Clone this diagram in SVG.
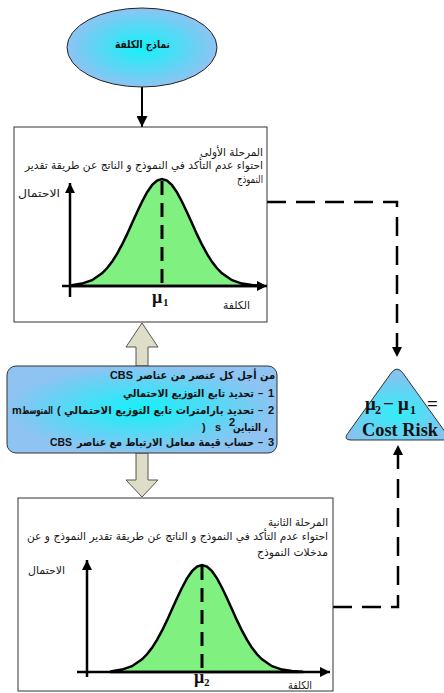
<svg xmlns="http://www.w3.org/2000/svg" xmlns:xlink="http://www.w3.org/1999/xlink" width="444" height="693" viewBox="0 0 444 693">
<style>
.box{fill:#fff;stroke:#333;stroke-width:1}
.ar{font-family:"DejaVu Sans","Liberation Sans",sans-serif;font-size:11px;fill:#1a1a1a}
.arb{font-family:"DejaVu Sans","Liberation Sans",sans-serif;font-size:11px;font-weight:bold;fill:#111}
.lat{font-family:"Liberation Sans",Arial,sans-serif;font-size:11px;font-weight:bold;fill:#111}
.mu{font-family:"Liberation Serif","Times New Roman",serif;font-weight:bold;fill:#111}
.axis{stroke:#000;stroke-width:2.5;fill:none}
.curve{fill:#80F080;stroke:#000;stroke-width:2.5}
.mean{stroke:#000;stroke-width:3;stroke-dasharray:14 8;fill:none}
.dash{stroke:#000;stroke-width:2.5;stroke-dasharray:19 10;fill:none}
.solid{stroke:#000;stroke-width:2;fill:none}
.hollow{fill:#DEDEC8;stroke:#555;stroke-width:1}
</style>
<defs>
<radialGradient id="gb" cx="50%" cy="50%" r="50%">
<stop offset="0" stop-color="#12F2F9"/>
<stop offset="1" stop-color="#8EC3F2"/>
</radialGradient>
<radialGradient id="gt" cx="50%" cy="62%" r="55%">
<stop offset="0" stop-color="#30EEF8"/>
<stop offset="1" stop-color="#86C2F0"/>
</radialGradient>
<marker id="ah" viewBox="0 0 10 10" refX="10" refY="5" markerUnits="userSpaceOnUse" markerWidth="14" markerHeight="10" orient="auto">
<path d="M0,0 L10,5 L0,10 Z" fill="#000"/>
</marker>
<marker id="ahs" viewBox="0 0 10 10" refX="10" refY="5" markerUnits="userSpaceOnUse" markerWidth="15" markerHeight="11" orient="auto">
<path d="M0,0 L10,5 L0,10 Z" fill="#000"/>
</marker>
<path id="gauss" d="M70,286 L72,285.1 82,283.6 92,280.2 102,273.4 107,268.3 112,261.8 117,253.9 122,244.7 127,234.4 132,223.3 137,212.2 142,201.7 147,192.4 152,185.2 157,180.6 162,179 167,180.6 172,185.2 177,192.4 182,201.7 187,212.2 192,223.3 197,234.4 202,244.7 207,253.9 212,261.8 217,268.3 222,273.4 232,280.2 242,283.6 252,285.1 262,285.7 L262,286 Z"/>
</defs>

<g id="connectors">
<line class="solid" x1="142" y1="87" x2="142" y2="127" marker-end="url(#ahs)"/>
<path class="dash" d="M267,202 H397 V357" marker-end="url(#ah)"/>
<path class="dash" d="M333,607 H398 V445" marker-end="url(#ah)"/>
<polygon class="hollow" points="142,323 158,347 148,347 148,366 136,366 136,347 126,347"/>
<polygon class="hollow" points="136,453 148,453 148,480 158,480 142,497 126,480 136,480"/>
</g>

<g id="node-models">
<ellipse cx="142" cy="47.5" rx="75" ry="39.5" fill="url(#gb)" stroke="#222" stroke-width="1"/>
<text class="arb" x="170" y="48" text-anchor="end" font-size="12" textLength="55" lengthAdjust="spacingAndGlyphs">نماذج الكلفة</text>
</g>

<g id="node-stage1">
<rect class="box" x="14" y="127" width="253" height="195"/>
<text class="ar" x="263" y="156" text-anchor="end" textLength="63" lengthAdjust="spacingAndGlyphs">المرحلة الأولى</text>
<text class="ar" x="263" y="169" text-anchor="end" textLength="238" lengthAdjust="spacingAndGlyphs">احتواء عدم التأكد في النموذج و الناتج عن طريقة تقدير</text>
<text class="ar" x="263" y="183" text-anchor="end" textLength="26" lengthAdjust="spacingAndGlyphs">النموذج</text>
<use xlink:href="#gauss" class="curve"/>
<line class="mean" x1="162" y1="181" x2="162" y2="286"/>
<line class="axis" x1="70" y1="297" x2="70" y2="183" marker-end="url(#ah)"/>
<line class="axis" x1="62" y1="286" x2="267" y2="286" marker-end="url(#ah)"/>
<text class="ar" x="60" y="197" text-anchor="end" font-size="12" textLength="42" lengthAdjust="spacingAndGlyphs">الاحتمال</text>
<text class="ar" x="250" y="309" text-anchor="end" textLength="27" lengthAdjust="spacingAndGlyphs">الكلفة</text>
<text class="mu" x="152" y="303" font-size="18">μ</text>
<text class="mu" x="163" y="306" font-size="11">1</text>
</g>

<g id="node-cbs">
<rect x="7" y="366" width="270" height="87" rx="9" fill="url(#gb)" stroke="#333" stroke-width="1"/>
<text class="arb" x="275" y="379" text-anchor="end" textLength="138" lengthAdjust="spacingAndGlyphs">من أجل كل عنصر من عناصر</text>
<text class="lat" x="110" y="379" textLength="23" lengthAdjust="spacingAndGlyphs">CBS</text>
<text class="lat" x="274" y="397" text-anchor="end">1</text>
<text class="lat" x="258" y="397" textLength="5" lengthAdjust="spacingAndGlyphs">–</text>
<text class="arb" x="254" y="397" text-anchor="end" textLength="131" lengthAdjust="spacingAndGlyphs">تحديد تابع التوزيع الاحتمالي</text>
<text class="lat" x="274" y="414" text-anchor="end">2</text>
<text class="lat" x="258" y="414" textLength="5" lengthAdjust="spacingAndGlyphs">–</text>
<text class="arb" x="254" y="414" text-anchor="end" textLength="190" lengthAdjust="spacingAndGlyphs">تحديد بارامترات تابع التوزيع الاحتمالي</text>
<text class="lat" x="57" y="414">(</text>
<text class="arb" x="53" y="414" text-anchor="end" textLength="31" lengthAdjust="spacingAndGlyphs">المتوسط</text>
<text class="lat" x="12" y="414">m</text>
<text class="arb" x="268" y="432" text-anchor="end">،</text>
<text class="arb" x="261" y="431" text-anchor="end" textLength="28" lengthAdjust="spacingAndGlyphs">التباين</text>
<text class="lat" x="229" y="426" font-size="8">2</text>
<text class="lat" x="215" y="431">s</text>
<text class="lat" x="202" y="431">)</text>
<text class="lat" x="274" y="446" text-anchor="end">3</text>
<text class="lat" x="258" y="446" textLength="5" lengthAdjust="spacingAndGlyphs">–</text>
<text class="arb" x="254" y="446" text-anchor="end" textLength="177" lengthAdjust="spacingAndGlyphs">حساب قيمة معامل الارتباط مع عناصر</text>
<text class="lat" x="50" y="446" textLength="22" lengthAdjust="spacingAndGlyphs">CBS</text>
</g>

<g id="node-risk">
<path d="M351,440 L443,440 Q451,440 446.3,433.5 L402.9,373.1 Q397,365 391.1,373.1 L347.7,433.5 Q343,440 351,440 Z" fill="url(#gt)" stroke="#333" stroke-width="1"/>
<text class="mu" y="410" font-size="19"><tspan x="365">μ</tspan><tspan x="375" y="414" font-size="12">2</tspan><tspan x="383" y="410">−</tspan><tspan x="398">μ</tspan><tspan x="410" y="414" font-size="12">1</tspan><tspan x="427" y="410">=</tspan></text>
<text class="mu" x="362" y="436" font-size="18" textLength="76" lengthAdjust="spacingAndGlyphs">Cost Risk</text>
</g>

<g id="node-stage2">
<rect class="box" x="18" y="498" width="315" height="193"/>
<text class="ar" x="328" y="526" text-anchor="end" textLength="60" lengthAdjust="spacingAndGlyphs">المرحلة الثانية</text>
<text class="ar" x="328" y="540" text-anchor="end" textLength="301" lengthAdjust="spacingAndGlyphs">احتواء عدم التأكد في النموذج و الناتج عن طريقة تقدير النموذج و عن</text>
<text class="ar" x="328" y="556" text-anchor="end" textLength="71" lengthAdjust="spacingAndGlyphs">مدخلات النموذج</text>
<use xlink:href="#gauss" class="curve" transform="translate(40,386)"/>
<line class="mean" x1="202" y1="566" x2="202" y2="672"/>
<line class="axis" x1="87" y1="677" x2="87" y2="560" marker-end="url(#ah)"/>
<line class="axis" x1="77" y1="672" x2="330" y2="672" marker-end="url(#ah)"/>
<text class="ar" x="65" y="574" text-anchor="end" font-size="12" textLength="37" lengthAdjust="spacingAndGlyphs">الاحتمال</text>
<text class="ar" x="312" y="689" text-anchor="end" textLength="24" lengthAdjust="spacingAndGlyphs">الكلفة</text>
<text class="mu" x="194" y="683" font-size="18">μ</text>
<text class="mu" x="204" y="686" font-size="11">2</text>
</g>
</svg>
